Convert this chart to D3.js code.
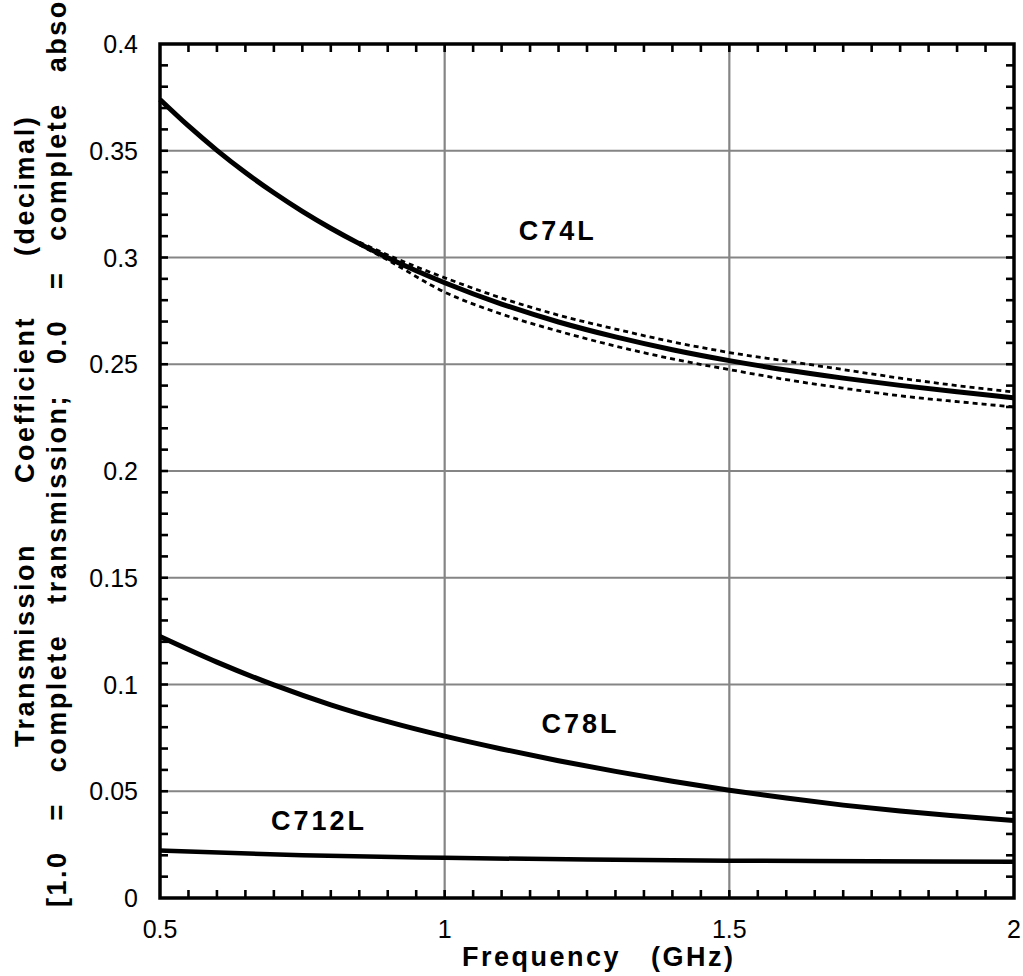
<!DOCTYPE html>
<html>
<head>
<meta charset="utf-8">
<script src="https://cdnjs.cloudflare.com/ajax/libs/d3/7.8.5/d3.min.js"></script>
<style>
  body { margin: 0; background: #fff; }
  svg text { font-family: "Liberation Sans", Arial, sans-serif; white-space: pre; }
</style>
</head>
<body>
<svg id="svg_chart" width="1023" height="976"></svg>
<script>
// frequency (GHz) and transmission values
var freq = [0.5, 0.55, 0.6, 0.65, 0.7, 0.75, 0.8, 0.85, 0.9, 0.95, 1.0, 1.1, 1.2, 1.3, 1.4, 1.5, 1.6, 1.7, 1.8, 1.9, 2.0];
var c74l = [0.374, 0.3616, 0.3502, 0.3398, 0.3303, 0.3216, 0.3137, 0.3065, 0.2999, 0.2938, 0.2882, 0.2782, 0.2698, 0.2628, 0.2568, 0.2517, 0.2473, 0.2435, 0.2401, 0.2371, 0.2343];

var freqBand = [0.85, 0.9, 1.0, 1.1, 1.2, 1.3, 1.4, 1.5, 1.6, 1.7, 1.8, 1.9, 2.0];
var c74lUpper = [0.3072, 0.3012, 0.2905, 0.281, 0.273, 0.2665, 0.2605, 0.2555, 0.2515, 0.2475, 0.2435, 0.240, 0.237];
var c74lLower = [0.3060, 0.2988, 0.2838, 0.2735, 0.2655, 0.2585, 0.2525, 0.2475, 0.2428, 0.2388, 0.2352, 0.2325, 0.230];

var freq78 = [0.5, 0.6, 0.7, 0.8, 0.9, 1.0, 1.1, 1.2, 1.3, 1.4, 1.5, 1.6, 1.7, 1.8, 1.9, 2.0];
var c78l = [0.1225, 0.1105, 0.0998, 0.0905, 0.0826, 0.0758, 0.0698, 0.0643, 0.0593, 0.0547, 0.0505, 0.0468, 0.0435, 0.0407, 0.0384, 0.0363];

var freq712 = [0.5, 0.75, 1.0, 1.25, 1.5, 1.75, 2.0];
var c712l = [0.0222, 0.020, 0.0188, 0.018, 0.0175, 0.0172, 0.017];

var xTickLabels = [0.5, 1, 1.5, 2];
var yTickLabels = [0, 0.05, 0.1, 0.15, 0.2, 0.25, 0.3, 0.35, 0.4];

var seriesLabels = [
  {name: "C74L", f: 1.13, v: 0.3082},
  {name: "C78L", f: 1.17, v: 0.0775},
  {name: "C712L", f: 0.695, v: 0.0318}
];

var svg = d3.select("svg#svg_chart");
var margin = {top: 44, right: 9, bottom: 78, left: 160};
var width = +svg.attr("width") - margin.left - margin.right;
var height = +svg.attr("height") - margin.top - margin.bottom;

var x = d3.scaleLinear().domain([0.5, 2]).range([0, width]);
var y = d3.scaleLinear().domain([0, 0.4]).range([height, 0]);

var g = svg.append("g")
  .attr("transform", "translate(" + margin.left + "," + margin.top + ")");

// grid lines at the labelled values
g.append("g").selectAll("line")
  .data(xTickLabels.slice(1, -1))
  .enter().append("line")
  .attr("x1", function(d) { return x(d); }).attr("x2", function(d) { return x(d); })
  .attr("y1", 0).attr("y2", height)
  .attr("stroke", "#858585").attr("stroke-width", 2.2);

g.append("g").selectAll("line")
  .data(yTickLabels.slice(1, -1))
  .enter().append("line")
  .attr("y1", function(d) { return y(d); }).attr("y2", function(d) { return y(d); })
  .attr("x1", 0).attr("x2", width)
  .attr("stroke", "#858585").attr("stroke-width", 2.2);

// inward ticks on all four sides
var xMinor = d3.range(1, 30).map(function(i) { return 0.5 + i * 0.05; });
var yMinor = d3.range(1, 40).map(function(i) { return i * 0.01; });
var tickLen = 8;

var ticks = g.append("g").attr("stroke", "#000").attr("stroke-width", 2.6);
[0, height].forEach(function(edge) {
  ticks.append("g").selectAll("line")
    .data(xMinor)
    .enter().append("line")
    .attr("x1", function(d) { return x(d); }).attr("x2", function(d) { return x(d); })
    .attr("y1", edge).attr("y2", edge === 0 ? tickLen : edge - tickLen);
});
[0, width].forEach(function(edge) {
  ticks.append("g").selectAll("line")
    .data(yMinor)
    .enter().append("line")
    .attr("y1", function(d) { return y(d); }).attr("y2", function(d) { return y(d); })
    .attr("x1", edge).attr("x2", edge === 0 ? tickLen : edge - tickLen);
});

// tick labels
g.append("g").selectAll("text")
  .data(xTickLabels)
  .enter().append("text")
  .attr("x", function(d) { return x(d); })
  .attr("y", height + 40)
  .attr("text-anchor", "middle")
  .attr("font-size", 25)
  .text(function(d) { return d; });

g.append("g").selectAll("text")
  .data(yTickLabels)
  .enter().append("text")
  .attr("x", -22)
  .attr("y", function(d) { return y(d) + 9; })
  .attr("text-anchor", "end")
  .attr("font-size", 25)
  .text(function(d) { return d; });

// curves
var line = d3.line()
  .curve(d3.curveMonotoneX)
  .x(function(d) { return x(d[0]); })
  .y(function(d) { return y(d[1]); });

function drawCurve(fs, vs, w, dash) {
  g.append("path")
    .datum(d3.zip(fs, vs))
    .attr("fill", "none")
    .attr("stroke", "#000")
    .attr("stroke-width", w)
    .attr("stroke-dasharray", dash)
    .attr("d", line);
}
drawCurve(freqBand, c74lUpper, 2.8, "5,4");
drawCurve(freqBand, c74lLower, 2.8, "5,4");
drawCurve(freq, c74l, 5, null);
drawCurve(freq78, c78l, 5, null);
drawCurve(freq712, c712l, 4.5, null);

// frame
g.append("rect")
  .attr("width", width).attr("height", height)
  .attr("fill", "none").attr("stroke", "#000").attr("stroke-width", 3.5);

// series labels
g.append("g").selectAll("text")
  .data(seriesLabels)
  .enter().append("text")
  .attr("x", function(d) { return x(d.f); })
  .attr("y", function(d) { return y(d.v); })
  .attr("font-size", 27)
  .attr("font-weight", "bold")
  .attr("letter-spacing", 3)
  .text(function(d) { return d.name; });

// axis titles
svg.append("text")
  .attr("x", 462).attr("y", 966)
  .attr("font-size", 27)
  .attr("font-weight", "bold")
  .attr("letter-spacing", 2.5)
  .text("Frequency   (GHz)");

svg.append("text")
  .attr("transform", "translate(34,747) rotate(-90)")
  .attr("font-size", 27)
  .attr("font-weight", "bold")
  .attr("letter-spacing", 2.5)
  .text("Transmission      Coefficient      (decimal)");

svg.append("text")
  .attr("transform", "translate(66,907) rotate(-90)")
  .attr("font-size", 27)
  .attr("font-weight", "bold")
  .attr("letter-spacing", 2.5)
  .text("[1.0   =   complete   transmission;   0.0   =   complete   absorption]");
</script>
</body>
</html>
